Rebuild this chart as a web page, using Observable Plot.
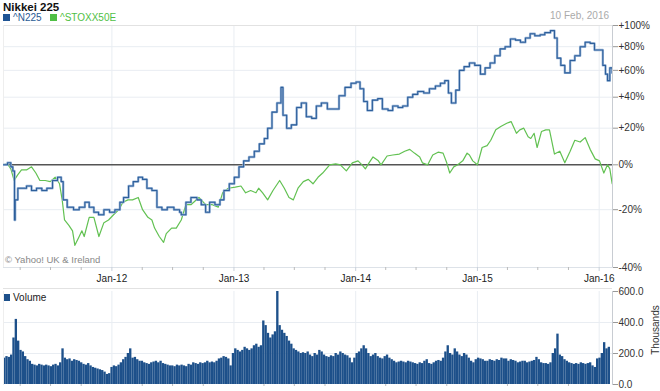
<!DOCTYPE html>
<html>
<head>
<meta charset="utf-8">
<script src="https://cdn.jsdelivr.net/npm/d3@7"></script>
<script src="https://cdn.jsdelivr.net/npm/@observablehq/plot@0.6"></script>
<style>
  html, body { margin: 0; padding: 0; background: #fff; }
  body { width: 660px; height: 391px; position: relative; overflow: hidden; font-family: "Liberation Sans", Arial, sans-serif; }
  .abs { position: absolute; white-space: nowrap; }
  #title { left: 3px; top: 1px; font-size: 11.5px; font-weight: bold; color: #111; }
  #legend { left: 3px; top: 12px; font-size: 10px; }
  #legend span.sw { display: inline-block; width: 7px; height: 7px; margin-right: 3px; vertical-align: 0px; }
  #date { right: 51px; top: 10px; font-size: 10px; color: #aaa; }
  #copy { left: 5px; top: 254px; font-size: 9.5px; color: #888; }
  #vleg { left: 4px; top: 292px; font-size: 10px; color: #222; }
  #vleg span.sw { display: inline-block; width: 6px; height: 7px; margin-right: 3px; background: #1d508a; }
  #thousands { left: 655px; top: 330px; font-size: 10px; color: #333; transform: translate(-50%, -50%) rotate(-90deg); }
  #main { position: absolute; left: 0; top: 0; }
  #vol { position: absolute; left: 0; top: 285px; }
</style>
</head>
<body>
<div id="main"></div>
<div id="vol"></div>
<div id="title" class="abs">Nikkei 225</div>
<div id="legend" class="abs"><span class="sw" style="background:#1f5494"></span><span style="color:#2a5b95">^N225</span>&nbsp;&nbsp;&nbsp;<span class="sw" style="background:#4fbf45"></span><span style="color:#4fbf45">^STOXX50E</span></div>
<div id="date" class="abs">10 Feb, 2016</div>
<div id="copy" class="abs">© Yahoo! UK &amp; Ireland</div>
<div id="vleg" class="abs"><span class="sw"></span>Volume</div>
<div id="thousands" class="abs">Thousands</div>
<script>
// ---- Data (percent change from 10 Feb 2011) ----
const n225 = [
["2011-02-10",0],["2011-02-22",1],["2011-03-04",-1],["2011-03-10",-3],["2011-03-15",-24],["2011-03-17",-16],
["2011-03-25",-11],["2011-04-05",-11],["2011-04-20",-10],["2011-05-05",-12],["2011-05-20",-11],["2011-06-05",-12],
["2011-06-20",-11],["2011-07-07",-7.5],["2011-07-22",-6],["2011-08-02",-8],["2011-08-08",-16],["2011-08-20",-19],
["2011-09-08",-20],["2011-09-25",-19],["2011-10-12",-17],["2011-10-25",-19],["2011-11-08",-21],["2011-11-22",-22],
["2011-12-08",-20],["2011-12-25",-21],["2012-01-10",-20],["2012-01-25",-17],["2012-02-05",-15],["2012-02-20",-10],
["2012-03-05",-8],["2012-03-20",-6],["2012-04-02",-7],["2012-04-15",-11],["2012-04-30",-12],["2012-05-15",-19],
["2012-05-30",-20],["2012-06-15",-19],["2012-07-05",-20],["2012-07-22",-21],["2012-07-27",-22],["2012-08-10",-17],
["2012-08-25",-15],["2012-09-12",-16],["2012-09-25",-18],["2012-10-08",-21],["2012-10-20",-17],["2012-11-05",-18],
["2012-11-20",-16],["2012-12-02",-12],["2012-12-18",-9],["2013-01-02",-6],["2013-01-16",-1],["2013-01-30",2],
["2013-02-15",4],["2013-03-03",7],["2013-03-18",11],["2013-04-02",14],["2013-04-12",20],["2013-04-25",30],
["2013-05-10",36],["2013-05-22",47],["2013-05-28",28],["2013-06-08",20],["2013-06-22",22],["2013-07-08",33],
["2013-07-22",36],["2013-08-06",27],["2013-08-22",26],["2013-09-05",34],["2013-09-20",36],["2013-10-08",32],
["2013-10-25",32],["2013-11-12",41],["2013-11-30",47],["2013-12-18",50],["2014-01-02",51],["2014-01-14",46],
["2014-01-25",37],["2014-02-05",31],["2014-02-20",38],["2014-03-08",39],["2014-03-22",32],["2014-04-08",31],
["2014-04-22",34],["2014-05-08",33],["2014-05-22",34],["2014-06-06",40],["2014-06-21",42],["2014-07-06",44],
["2014-07-24",43],["2014-08-10",46],["2014-08-28",48],["2014-09-12",50],["2014-09-25",52],["2014-10-06",43],
["2014-10-15",36],["2014-10-28",45],["2014-11-08",60],["2014-11-22",63],["2014-12-08",66],["2014-12-24",64],
["2015-01-10",57],["2015-01-24",62],["2015-02-08",66],["2015-02-22",72],["2015-03-10",78],["2015-03-25",80],
["2015-04-10",87],["2015-04-25",86],["2015-05-10",84],["2015-05-25",88],["2015-06-08",92],["2015-06-22",90],
["2015-07-08",91],["2015-07-22",93],["2015-08-08",95],["2015-08-20",88],["2015-08-28",70],["2015-09-08",64],
["2015-09-20",58],["2015-10-06",68],["2015-10-20",72],["2015-11-05",80],["2015-11-20",84],["2015-12-05",83],
["2015-12-18",77],["2015-12-30",77],["2016-01-12",64],["2016-01-20",57],["2016-01-26",52],["2016-02-02",62],
["2016-02-09",58]
];

const stoxx = [
["2011-02-10",0],["2011-02-22",0.5],["2011-03-04",-2],["2011-03-14",-7.5],["2011-03-24",-5],["2011-04-05",-2.5],
["2011-04-20",-2.5],["2011-05-05",-1],["2011-05-18",-4],["2011-05-30",-7.5],["2011-06-15",-7.5],["2011-06-30",-8],
["2011-07-15",-6],["2011-07-28",-9],["2011-08-05",-16],["2011-08-12",-24],["2011-08-25",-26],["2011-09-05",-28],
["2011-09-12",-33],["2011-09-25",-30],["2011-10-03",-28],["2011-10-10",-30],["2011-10-25",-23],["2011-11-08",-23],
["2011-11-23",-30],["2011-12-08",-25],["2011-12-22",-24],["2012-01-06",-22],["2012-01-22",-20],["2012-02-03",-17],
["2012-02-18",-16],["2012-03-03",-16],["2012-03-20",-15],["2012-04-02",-20],["2012-04-18",-23],["2012-04-30",-24],
["2012-05-08",-27],["2012-05-22",-30],["2012-06-04",-32],["2012-06-12",-29],["2012-06-28",-27],["2012-07-12",-27],
["2012-07-27",-24],["2012-08-10",-18],["2012-08-25",-18],["2012-09-18",-15],["2012-10-08",-18],["2012-10-28",-18],
["2012-11-15",-19],["2012-11-28",-13],["2012-12-15",-11],["2013-01-05",-10.5],["2013-01-22",-10],["2013-02-05",-13],
["2013-02-20",-12],["2013-03-08",-13],["2013-03-16",-11],["2013-03-28",-13],["2013-04-12",-16],["2013-04-28",-12],
["2013-05-18",-7.5],["2013-06-01",-11],["2013-06-15",-15],["2013-06-28",-16],["2013-07-12",-11],["2013-07-28",-8],
["2013-08-12",-7],["2013-08-26",-9],["2013-09-10",-6],["2013-09-24",-4],["2013-10-15",0],["2013-11-02",0.5],
["2013-11-16",0],["2013-12-04",-3],["2013-12-22",1],["2014-01-08",2],["2014-01-20",0],["2014-01-30",-2],
["2014-02-10",1],["2014-02-22",4],["2014-03-10",2],["2014-03-18",0],["2014-04-05",4.5],["2014-04-22",5],
["2014-05-12",5.5],["2014-05-28",7],["2014-06-12",8],["2014-06-26",6],["2014-07-12",4],["2014-07-20",1],
["2014-08-05",0],["2014-08-20",5],["2014-09-05",6.5],["2014-09-20",6],["2014-10-01",1],["2014-10-10",-4],
["2014-10-22",-1],["2014-11-03",0],["2014-11-18",2],["2014-12-01",6],["2014-12-08",5],["2014-12-18",2],
["2015-01-01",0],["2015-01-15",9],["2015-01-30",10],["2015-02-10",13],["2015-02-25",19],["2015-03-12",21],
["2015-03-30",23],["2015-04-12",24],["2015-04-28",17],["2015-05-08",19],["2015-05-20",20],["2015-06-02",15],
["2015-06-10",14],["2015-06-20",17],["2015-06-29",9],["2015-07-12",18],["2015-07-25",19],["2015-08-05",19],
["2015-08-20",5.5],["2015-09-05",7],["2015-09-20",1],["2015-10-06",7],["2015-10-20",13],["2015-11-05",12],
["2015-11-20",14.5],["2015-12-05",8],["2015-12-20",3],["2016-01-02",2],["2016-01-15",-4],["2016-01-26",0],
["2016-02-02",-2],["2016-02-09",-9]
];

// Weekly volume (thousands), weeks starting 10 Feb 2011
const volumeStart = "2011-02-10";
const volume = [
// 2011
170,180,175, 190,300,420,280,220, 210,180,160,150, 130,125,120,130, 125,120,125,120, 115,125,130,120,
140,230,170,160, 165,150,160,155,150, 140,130,125,135, 120,110,105,100, 95,90,80,65,70,
// 2012
110,120,115,125, 140,160,175,200, 230,170,175,160,150, 150,140,135,130, 140,145,150,140, 150,135,130,125,120,
120,115,125,120, 125,120,115,130,125, 140,135,130,140, 135,140,150,140,145, 140,150,165,170, 180,175,165,120,
// 2013
200,230,220,210,220, 240,230,220,230, 250,260,240,250, 410,380,330,300, 320,340,600,380,350, 330,310,280,260,
230,220,210,200,205, 200,210,190,180, 200,190,220,210, 190,180,175,185,180, 200,190,210,200, 190,185,170,140,
// 2014
170,200,210,230, 250,230,200,180, 190,200,180,170,165, 180,190,170,160, 150,140,145,150, 145,140,150,145,
140,135,130,140,135, 150,160,135,130, 140,150,155,150, 170,210,250,200,190, 230,210,190,180, 200,190,170,150,140,
// 2015
160,170,165,160,150, 150,160,155,150, 160,155,170,165, 165,150,160,155, 150,140,145,150,150, 140,145,150,155,
175,160,140,135, 135,130,140,200, 230,325,190,180, 160,150,140,135,130, 135,130,140,135, 130,135,140,120,110,
// 2016
165,170,200,270, 230,240
];

const yearTicks = ["2012-01-01","2013-01-01","2014-01-01","2015-01-01","2016-01-01"];
const quarterTicks = ["2011-04-01","2011-07-01","2011-10-01","2012-04-01","2012-07-01","2012-10-01",
  "2013-04-01","2013-07-01","2013-10-01","2014-04-01","2014-07-01","2014-10-01",
  "2015-04-01","2015-07-01","2015-10-01"];
const pctTicks = [-40,-20,0,20,40,60,80,100];
const volTicks = [0,200,400,600];

// ---- Build ----
const parse = d3.utcParse("%Y-%m-%d");
const toRows = arr => arr.map(([d, p]) => ({date: parse(d), r: 1 + p / 100}));
const nRows = toRows(n225), sRows = toRows(stoxx);
const years = yearTicks.map(parse), quarters = quarterTicks.map(parse);
const ratioTicks = pctTicks.map(p => 1 + p / 100);
const xDomain = [parse("2011-02-10"), parse("2016-02-10")];
const v0 = parse(volumeStart);
const vRows = volume.map((v, i) => ({d1: d3.utcDay.offset(v0, 7 * i), d2: d3.utcDay.offset(v0, 7 * i + 7), v}));
const pctFmt = r => { const p = Math.round((r - 1) * 100); return p > 0 ? `+${p}%` : `${p}%`; };

const grid = "#e9edf2";
const font = {fontFamily: "'Liberation Sans', Arial, sans-serif", fontSize: "10px", color: "#333", background: "transparent", overflow: "visible"};

const main = Plot.plot({
  width: 660, height: 285,
  marginLeft: 3, marginRight: 48, marginTop: 25, marginBottom: 18,
  style: font,
  x: {type: "utc", domain: xDomain, label: null},
  y: {type: "log", domain: [0.6, 2.0], label: null},
  marks: [
    Plot.ruleX(years, {stroke: grid}),
    Plot.ruleY(ratioTicks.filter(r => r !== 1), {stroke: grid}),
    Plot.frame({anchor: "top", stroke: "#e2e2e2"}),
    Plot.frame({anchor: "left", stroke: "#eeeeee"}),
    Plot.frame({anchor: "right", stroke: "#c8ccd2"}),
    Plot.frame({anchor: "bottom", stroke: "#dde2e8"}),
    Plot.ruleY([1], {stroke: "#555", strokeWidth: 1.4}),
    Plot.line(sRows, {x: "date", y: "r", stroke: "#62c152", strokeWidth: 1.2, clip: true}),
    Plot.line(nRows, {x: "date", y: "r", stroke: "#9bb6d8", strokeWidth: 2.4, curve: "step-after", clip: true}),
    Plot.line(nRows, {x: "date", y: "r", stroke: "#2d5f9b", strokeWidth: 1.1, curve: "step-after", clip: true}),
    Plot.axisY({anchor: "right", label: null, ticks: ratioTicks, tickFormat: pctFmt, tickSize: 5, tickPadding: 1, stroke: "#999", fill: "#333"}),
    Plot.axisX({label: null, ticks: quarters, tickFormat: () => "", tickSize: 3, stroke: "#bbb"}),
    Plot.axisX({label: null, ticks: years, tickFormat: d3.utcFormat("%b-%y"), tickSize: 4, tickPadding: 3, stroke: "#c8d0da", fill: "#222"})
  ]
});
document.getElementById("main").appendChild(main);

const vol = Plot.plot({
  width: 660, height: 106,
  marginLeft: 3, marginRight: 48, marginTop: 6, marginBottom: 7,
  style: font,
  x: {type: "utc", domain: xDomain, label: null},
  y: {domain: [0, 600], label: null},
  marks: [
    Plot.ruleX(years, {stroke: grid}),
    Plot.ruleY([200, 400], {stroke: grid}),
    Plot.rectY(vRows, {x1: "d1", x2: "d2", y: "v", fill: "#1d508a", clip: true}),
    Plot.frame({anchor: "left", stroke: "#eeeeee"}),
    Plot.frame({anchor: "right", stroke: "#c8ccd2"}),
    Plot.axisY({anchor: "right", label: null, ticks: volTicks, tickFormat: d3.format(".1f"), tickSize: 5, tickPadding: 1, stroke: "#999", fill: "#333"}),
    Plot.axisX({label: null, ticks: quarters, tickFormat: () => "", tickSize: 2, stroke: "#bbb"})
  ]
});
document.getElementById("vol").appendChild(vol);
// top border of volume panel
d3.select(vol).append("line").attr("x1", 3).attr("x2", 612).attr("y1", 3.5).attr("y2", 3.5).attr("stroke", "#e2e2e2");
</script>
</body>
</html>
